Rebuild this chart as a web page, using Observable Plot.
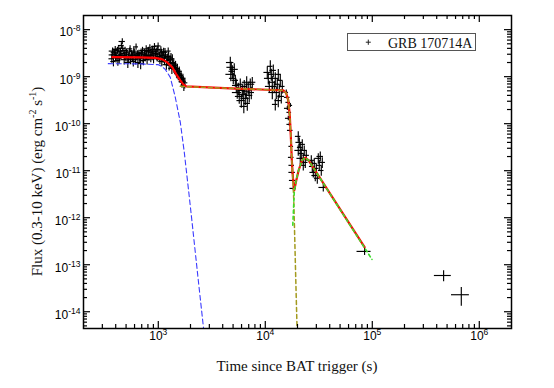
<!DOCTYPE html>
<html><head><meta charset="utf-8">
<script src="https://cdn.jsdelivr.net/npm/d3@7"></script>
<script src="https://cdn.jsdelivr.net/npm/@observablehq/plot@0.6"></script>
<style>
body{margin:0;background:#fff;}
#chart{width:554px;height:388px;}
</style></head><body><div id="chart"></div>
<script>
// ---- Windowed-timing (early) light curve: time (s), flux (erg cm^-2 s^-1), fractional errors
const wtTime = [368,374,381,388,396,403,411,419,427,436,444,452,461,470,480,489,499,509,519,529,540,551,562,573,584,596,608,620,632,645,658,671,684,698,712,726,741,756,771,786,802,818,834,851,868,885,903,921,939,958,977,996,1016,1036,1057,1078,1100,1122,1144,1167,1190,1214,1238,1263,1288,1314,1340,1367,1394,1422,1450,1479,1509,1539,1570,1601,1633,1666,1699,1733,1768,
  371,385,399,415,431,448,465,484,504,524,545,567,590,614,638,664,691,719,748,778,810,842,876,912,948,987,1026,1068,1111,1155,1202,1250,1301,1353,1408,1464,1524,1585,1649,1716];
const wtFlux = [2.4e-9,3.5e-9,2.1e-9,3.0e-9,3.8e-9,2.5e-9,3.2e-9,2.2e-9,3.9e-9,2.8e-9,3.4e-9,4.6e-9,5.6e-9,3.1e-9,2.3e-9,3.6e-9,2.6e-9,3.0e-9,2.0e-9,2.7e-9,3.5e-9,2.3e-9,3.0e-9,2.6e-9,2.1e-9,3.3e-9,2.5e-9,4.3e-9,2.8e-9,2.0e-9,3.1e-9,2.4e-9,1.9e-9,2.9e-9,3.6e-9,2.2e-9,3.2e-9,2.6e-9,3.9e-9,2.3e-9,3.4e-9,2.7e-9,4.1e-9,2.5e-9,3.3e-9,3.8e-9,2.4e-9,4.4e-9,2.9e-9,3.5e-9,2.6e-9,4.5e-9,3.0e-9,2.3e-9,3.7e-9,2.1e-9,2.8e-9,3.4e-9,2.2e-9,2.9e-9,1.8e-9,2.5e-9,3.5e-9,1.75e-9,2.3e-9,2.6e-9,1.5e-9,2.0e-9,1.9e-9,1.45e-9,1.75e-9,1.25e-9,1.5e-9,1.1e-9,1.3e-9,0.95e-9,1.05e-9,0.78e-9,0.9e-9,0.66e-9,0.74e-9,
  2.9e-9,3.3e-9,2.7e-9,3.6e-9,2.4e-9,3.0e-9,4.0e-9,2.8e-9,3.3e-9,2.4e-9,3.9e-9,2.8e-9,3.5e-9,2.3e-9,3.0e-9,2.7e-9,3.3e-9,2.5e-9,3.0e-9,2.8e-9,3.6e-9,2.9e-9,2.8e-9,3.5e-9,3.1e-9,3.8e-9,2.7e-9,3.2e-9,2.5e-9,3.3e-9,2.2e-9,2.7e-9,2.0e-9,2.4e-9,1.6e-9,1.45e-9,1.2e-9,1.15e-9,0.88e-9,0.8e-9];
const wtTErr = [0.06,0.07,0.056,0.064,0.06,0.076,0.054,0.066,0.06,0.072,0.058,0.062,0.068,0.056,0.06,0.074,0.064,0.054,0.066,0.06,0.07,0.058,0.062,0.056,0.068,0.06,0.072,0.054,0.064,0.06,0.066,0.058,0.07,0.062,0.056,0.06,0.068,0.064,0.054,0.072,0.06,0.066,0.058,0.062,0.07,0.056,0.064,0.06,0.068,0.054,0.062,0.066,0.06,0.072,0.056,0.064,0.06,0.068,0.058,0.062,0.07,0.056,0.064,0.06,0.068,0.054,0.066,0.06,0.072,0.058,0.062,0.056,0.068,0.06,0.064,0.07,0.058,0.062,0.066,0.06,0.068,
  0.064,0.058,0.07,0.062,0.066,0.056,0.072,0.06,0.064,0.068,0.058,0.062,0.07,0.056,0.066,0.06,0.064,0.072,0.058,0.062,0.068,0.06,0.066,0.056,0.07,0.062,0.064,0.058,0.068,0.06,0.072,0.062,0.066,0.058,0.064,0.07,0.06,0.066,0.062,0.068];
const wtFErr = [0.2,0.17,0.23,0.19,0.16,0.22,0.18,0.24,0.17,0.21,0.19,0.15,0.14,0.2,0.23,0.17,0.21,0.19,0.25,0.2,0.17,0.22,0.19,0.21,0.24,0.18,0.2,0.15,0.19,0.25,0.18,0.21,0.26,0.19,0.17,0.22,0.18,0.2,0.16,0.23,0.18,0.2,0.16,0.21,0.18,0.17,0.22,0.15,0.19,0.17,0.21,0.15,0.19,0.22,0.17,0.23,0.2,0.18,0.22,0.19,0.24,0.2,0.17,0.25,0.21,0.19,0.26,0.22,0.2,0.24,0.21,0.25,0.22,0.26,0.23,0.25,0.24,0.27,0.25,0.27,0.26,
  0.19,0.18,0.22,0.17,0.23,0.2,0.16,0.21,0.18,0.24,0.17,0.2,0.18,0.23,0.19,0.21,0.18,0.22,0.2,0.21,0.17,0.19,0.22,0.18,0.2,0.17,0.21,0.19,0.23,0.2,0.24,0.21,0.25,0.22,0.24,0.23,0.25,0.24,0.26,0.25];

// ---- Photon-counting (later) light curve
const pcTime = [4710,4810,4920,4760,5020,5130,5250,5360,5590,5470,5710,5840,5970,6100,6230,6360,6500,6640,6790,6930,7080,7240,7400,7560,6700,6300,
  10440,10670,11140,11380,11630,11880,12140,12400,12670,12950,13230,13520,13810,14110,12400,13230,10900,14420,11630,
  15710,16070,16410,16070,16770,16410,17140,16770,17140,17500,17500,17700,17870,18070,18280,
  20330,20790,21230,20330,21690,22170,22650,23130,23650,24160,22650,21230,
  26920,27500,28100,28700,29320,29970,31280,31970,32660,33370,34100,34840,30620,
  84700,464000,679000];
const pcFlux = [2.0e-9,1.58e-9,1.3e-9,1.12e-9,9.2e-10,1.43e-9,8.35e-10,6.5e-10,5.6e-10,4.6e-10,3.8e-10,6.9e-10,3.1e-10,5.1e-10,4.2e-10,6.2e-10,3.45e-10,4.9e-10,2.7e-10,5.6e-10,4.0e-10,6.9e-10,4.6e-10,7.6e-10,7.6e-10,2.33e-10,
  1.23e-9,9.2e-10,1.66e-9,1.12e-9,7.6e-10,1.36e-9,6.2e-10,9.2e-10,4.6e-10,6.9e-10,1.12e-9,5.1e-10,8.35e-10,3.8e-10,2.57e-10,3.1e-10,6.2e-10,6.2e-10,4.6e-10,
  4.64e-10,3.63e-10,2.84e-10,2.12e-10,1.74e-10,1.30e-10,2.45e-10,9.66e-11,7.2e-11,3.29e-11,1.92e-11,1.30e-11,9.2e-12,6.2e-12,4.2e-12,
  5.37e-11,4.0e-11,3.13e-11,2.7e-11,2.33e-11,3.63e-11,1.83e-11,2.7e-11,1.5e-11,2.12e-11,1.3e-11,1.83e-11,
  1.66e-11,1.23e-11,9.2e-12,1.43e-11,7.9e-12,1.12e-11,1.83e-11,1.3e-11,2.01e-11,1.01e-11,1.5e-11,4.4e-12,6.9e-12,
  1.92e-13,5.9e-14,2.3e-14];
const pcTErr = [0.08,0.09,0.07,0.1,0.08,0.09,0.07,0.08,0.09,0.1,0.08,0.07,0.09,0.08,0.1,0.07,0.09,0.08,0.07,0.09,0.08,0.1,0.07,0.08,0.09,0.08,
  0.07,0.08,0.06,0.07,0.08,0.07,0.06,0.08,0.07,0.06,0.07,0.08,0.06,0.07,0.06,0.07,0.08,0.06,0.07,
  0.05,0.06,0.05,0.06,0.05,0.06,0.05,0.05,0.06,0.05,0.06,0.06,0.07,0.07,0.07,
  0.06,0.07,0.06,0.07,0.06,0.07,0.06,0.07,0.06,0.07,0.06,0.07,
  0.07,0.06,0.07,0.06,0.07,0.06,0.07,0.06,0.07,0.06,0.07,0.09,0.06,
  0.15,0.18,0.19];
const pcFErr = [0.3,0.28,0.32,0.3,0.27,0.31,0.29,0.33,0.3,0.28,0.32,0.29,0.31,0.3,0.27,0.33,0.29,0.3,0.32,0.28,0.31,0.29,0.3,0.27,0.31,0.3,
  0.3,0.28,0.31,0.29,0.32,0.3,0.28,0.31,0.3,0.29,0.27,0.32,0.3,0.31,0.28,0.3,0.29,0.31,0.3,
  0.12,0.1,0.11,0.1,0.12,0.11,0.1,0.09,0.1,0.09,0.1,0.09,0.1,0.1,0.11,
  0.25,0.24,0.26,0.25,0.24,0.26,0.25,0.24,0.26,0.25,0.24,0.26,
  0.25,0.26,0.24,0.25,0.26,0.24,0.25,0.26,0.24,0.25,0.26,0.2,0.25,
  0.18,0.26,0.43];

// ---- Model components
const totalTime = [372,679,938,1090,1214,1351,1473,1606,1713,1827,4710,14730,15710,16410,16940,17310,17700,18150,18660,19480,20470,22020,23650,25400,84700];
const totalFlux = [2.61e-9,2.57e-9,2.51e-9,2.33e-9,2.01e-9,1.58e-9,1.12e-9,8.35e-10,6.86e-10,6.22e-10,5.64e-10,5.12e-10,4.42e-10,3.13e-10,1.5e-10,5.64e-11,1.66e-11,6.86e-12,3.81e-12,6.22e-12,1.01e-11,1.66e-11,1.89e-11,1.66e-11,2.37e-13];
const steepTime = [341,679,1000,1090,1162,1295,1442,1606,1750,1919,2084,2339,2690];
const steepFlux = [1.89e-9,1.87e-9,1.8e-9,1.62e-9,1.43e-9,9.66e-10,3.63e-10,1.07e-10,2.45e-11,3.81e-12,6.86e-13,5.9e-14,3.2e-15];
const plateauTime = [1606,4710,14730,15710,16410,16940,17310,17700,18150,18460,18870,19280,19900];
const plateauFlux = [6.22e-10,5.64e-10,5.12e-10,4.42e-10,3.13e-10,1.5e-10,5.64e-11,1.66e-11,6.0e-12,2.33e-12,3.29e-13,4.63e-14,3.0e-15];
const flareTime = [18070,18660,19480,20470,22020,23650,25400,99300];
const flareFlux = [6.9e-13,3.5e-12,6.5e-12,1.01e-11,1.66e-11,1.89e-11,1.66e-11,1.30e-13];

// ---- Axes
const xTickExp = [3,4,5,6];
const yTickExp = [-8,-9,-10,-11,-12,-13,-14];
const xDomain = [200, 2e6];
const yDomain = [4.4e-15, 2e-8];
const legendLabel = "GRB 170714A";

const W = 554, H = 388, ML = 83, MR = 43, MT = 15, MB = 60;
const plotW = W - ML - MR, plotH = H - MT - MB;

const pts = [];
wtTime.forEach((t,i)=>{ const f = wtFlux[i]; pts.push({t, f, tlo:t*(1-wtTErr[i]), thi:t*(1+wtTErr[i]), flo:f*(1-wtFErr[i]), fhi:f*(1+wtFErr[i])}); });
pcTime.forEach((t,i)=>{ const f = pcFlux[i]; pts.push({t, f, tlo:t*(1-pcTErr[i]), thi:t*(1+pcTErr[i]), flo:f*(1-pcFErr[i]), fhi:f*(1+pcFErr[i])}); });
const toRows = (T,F) => T.map((t,i)=>({t, f:F[i]}));
const total = toRows(totalTime,totalFlux), steep = toRows(steepTime,steepFlux), plateau = toRows(plateauTime,plateauFlux), flare = toRows(flareTime,flareFlux);

const xMajor = xTickExp.map(e=>10**e);
const yMajor = yTickExp.map(e=>10**e);
const xMinor = [], yMinor = [];
for (let e=2;e<=6;e++) for (let k=2;k<=9;k++){ const v=k*10**e; if (v>xDomain[0]*1.001 && v<xDomain[1]*0.999) xMinor.push(v); }
for (let e=-15;e<=-8;e++) for (let k=2;k<=9;k++){ const v=k*10**e; if (v>yDomain[0]*1.001 && v<yDomain[1]*0.999) yMinor.push(v); }
const expFmt = v => "10^" + Math.round(Math.log10(v));

const MAJ = 7, MIN = 4;
const tickStyle = {stroke:"black", strokeWidth:1.2};
const svg = Plot.plot({
  width: W, height: H, marginLeft: ML, marginRight: MR, marginTop: MT, marginBottom: MB,
  style: {fontFamily: "'Liberation Sans', Arial, sans-serif", fontSize: "12px", background: "white"},
  x: {type: "log", domain: xDomain},
  y: {type: "log", domain: yDomain},
  marks: [
    Plot.ruleY(pts, {y:"f", x1:"tlo", x2:"thi", stroke:"#000", strokeWidth:1.15, clip:true}),
    Plot.ruleX(pts, {x:"t", y1:"flo", y2:"fhi", stroke:"#000", strokeWidth:1.15, clip:true}),
    Plot.line(steep, {x:"t", y:"f", stroke:"#3c3cff", strokeWidth:1.1, strokeDasharray:"5,3", clip:true}),
    Plot.line(total, {x:"t", y:"f", stroke:"#ff0000", strokeWidth:2.2, clip:true}),
    Plot.line(plateau, {x:"t", y:"f", stroke:"#a39a1e", strokeWidth:1.5, strokeDasharray:"4,3", clip:true}),
    Plot.line(flare, {x:"t", y:"f", stroke:"#3ddc2a", strokeWidth:1.6, strokeDasharray:"3,3", clip:true}),
    // inward ticks on all four sides
    Plot.ruleX(xMajor, {...tickStyle, insetTop: plotH - MAJ}),
    Plot.ruleX(xMinor, {...tickStyle, insetTop: plotH - MIN}),
    Plot.ruleX(xMajor, {...tickStyle, insetBottom: plotH - MAJ}),
    Plot.ruleX(xMinor, {...tickStyle, insetBottom: plotH - MIN}),
    Plot.ruleY(yMajor, {...tickStyle, insetRight: plotW - MAJ}),
    Plot.ruleY(yMinor, {...tickStyle, insetRight: plotW - MIN}),
    Plot.ruleY(yMajor, {...tickStyle, insetLeft: plotW - MAJ}),
    Plot.ruleY(yMinor, {...tickStyle, insetLeft: plotW - MIN}),
    Plot.axisX({ticks: xMajor, tickSize: 0, tickPadding: 3, tickFormat: expFmt, label: null, fontSize: 12}),
    Plot.axisY({ticks: yMajor, tickSize: 0, tickPadding: 3, tickFormat: expFmt, label: null, fontSize: 12, dy: 3}),
    Plot.frame({stroke:"black", strokeWidth:1.5})
  ]
});
document.getElementById("chart").appendChild(svg);

const NS = "http://www.w3.org/2000/svg";
svg.querySelectorAll('g[aria-label$="tick label"] text').forEach(t => {
  const m = t.textContent.match(/^10\^(.+)$/);
  if (!m) return;
  t.textContent = "";
  const a = document.createElementNS(NS, "tspan"); a.textContent = "10";
  const b = document.createElementNS(NS, "tspan"); b.textContent = m[1];
  b.setAttribute("dy", "-5"); b.setAttribute("font-size", "8.5");
  t.append(a, b);
});

const s = d3.select(svg);
const serif = "'Liberation Serif','Times New Roman',serif";
// legend
s.append("rect").attr("x",347.5).attr("y",33.5).attr("width",128).attr("height",17)
  .attr("fill","white").attr("stroke","#555").attr("stroke-width",1);
s.append("path").attr("d","M365.8,42.2H370.8M368.3,39.6V44.8").attr("stroke","#222").attr("stroke-width",1).attr("fill","none");
s.append("text").attr("x",388).attr("y",47.5).attr("text-anchor","start").attr("font-family",serif).attr("font-size",14).attr("fill","#111").text(legendLabel);
// x title
s.append("text").attr("x",(ML + W - MR)/2).attr("y",371).attr("text-anchor","middle")
  .attr("font-family",serif).attr("font-size",15).attr("fill","#111").text("Time since BAT trigger (s)");
// y title
const yt = s.append("text").attr("transform","translate(41.5,181.5) rotate(-90)").attr("text-anchor","middle")
  .attr("font-family",serif).attr("font-size",15).attr("fill","#111");
yt.append("tspan").text("Flux (0.3-10 keV) (erg cm");
yt.append("tspan").attr("dy",-6).attr("font-size",10).text("-2");
yt.append("tspan").attr("dy",6).text(" s");
yt.append("tspan").attr("dy",-6).attr("font-size",10).text("-1");
yt.append("tspan").attr("dy",6).text(")");
</script></body></html>
